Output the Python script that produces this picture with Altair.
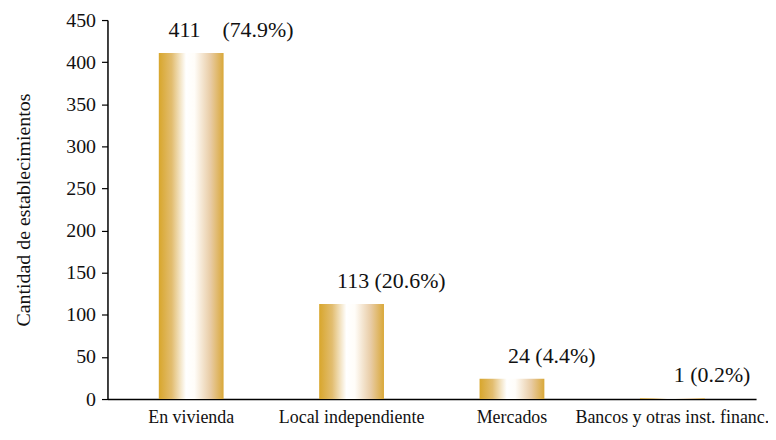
import altair as alt
import pandas as pd

categories = ["En vivienda", "Local independiente", "Mercados", "Bancos y otras inst. financ."]
counts = [411, 113, 24, 1]
percents = ["74.9", "20.6", "4.4", "0.2"]
separators = ["\u00a0\u00a0\u00a0\u00a0", "\u00a0", "\u00a0", "\u00a0"]
y_ticks = [0, 50, 100, 150, 200, 250, 300, 350, 400, 450]

df = pd.DataFrame({
    "cat": categories,
    "n": counts,
    "label": [f"{n}{s}({p}%)" for n, s, p in zip(counts, separators, percents)],
})

FONT = "'Liberation Serif', 'Times New Roman', Times, serif"

gradient = alt.Gradient(
    gradient="linear",
    x1=0, x2=1, y1=0, y2=0,
    stops=[
        alt.GradientStop(offset=0, color="#D8A62C"),
        alt.GradientStop(offset=0.2, color="#E2BD70"),
        alt.GradientStop(offset=0.42, color="#FFFFFF"),
        alt.GradientStop(offset=0.55, color="#FFFDF9"),
        alt.GradientStop(offset=0.8, color="#E8CBA4"),
        alt.GradientStop(offset=1, color="#D9A839"),
    ],
)

x = alt.X(
    "cat:N",
    sort=categories,
    title=None,
    scale=alt.Scale(paddingInner=0.596, paddingOuter=0.32),
    axis=alt.Axis(
        labelAngle=0, ticks=False, domainColor="black", domainWidth=1.5,
        labelFont=FONT, labelFontSize=18, labelColor="#111", labelPadding=10,
        labelLimit=300,
    ),
)
y = alt.Y(
    "n:Q",
    title="Cantidad de establecimientos",
    scale=alt.Scale(domain=[0, 450], nice=False),
    axis=alt.Axis(
        values=y_ticks, grid=False, domainColor="black", domainWidth=1.5,
        tickColor="black", tickSize=6, tickWidth=1.2,
        labelFont=FONT, labelFontSize=20, labelColor="#111", labelPadding=6,
        titleFont=FONT, titleFontSize=20, titleFontWeight="normal",
        titleColor="#111", titlePadding=32,
    ),
)

bars = alt.Chart(df).mark_bar(color=gradient).encode(x=x, y=y)

labels = alt.Chart(df).mark_text(
    font=FONT, fontSize=22, color="#111", align="center",
    baseline="alphabetic", dx=40, dy=-16,
).encode(x=alt.X("cat:N", sort=categories), y="n:Q", text="label:N")

chart = (
    alt.layer(bars, labels)
    .properties(
        width=652, height=381,
        autosize=alt.AutoSizeParams(type="none"),
        padding={"left": 100, "top": 11, "right": 12, "bottom": 30},
    )
    .configure_view(stroke=None)
)

chart.save("out.html", embed_options={"renderer": "svg", "actions": False})
